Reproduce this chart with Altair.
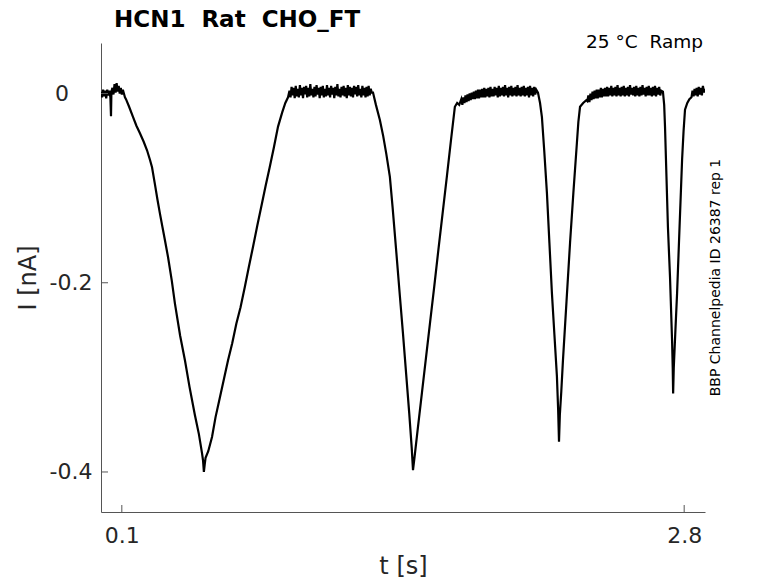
import altair as alt
import pandas as pd

# ---- trace values (t in s, I in nA), segment by segment ----
t_base1 = [0.000, 0.005, 0.010, 0.015, 0.020, 0.025, 0.030, 0.035, 0.040, 0.045, 0.048, 0.050,
           0.055, 0.060, 0.065, 0.070, 0.075, 0.080, 0.085, 0.090, 0.095, 0.100, 0.105, 0.110, 0.115]
i_base1 = [0.002, -0.004, 0.004, -0.003, 0.003, -0.005, 0.004, -0.002, 0.003, -0.004, -0.024, 0.002,
           0.006, -0.001, 0.010, 0.001, 0.011, 0.002, 0.008, 0.000, 0.006, -0.001, 0.004, 0.000, -0.004]

t_down1 = [0.120, 0.135, 0.154, 0.170, 0.187, 0.205, 0.221, 0.235, 0.245, 0.259, 0.271, 0.283,
           0.295, 0.307, 0.322, 0.340, 0.355, 0.380, 0.403, 0.425, 0.451, 0.470, 0.485, 0.490,
           0.494, 0.498]
i_down1 = [-0.006, -0.014, -0.025, -0.034, -0.042, -0.051, -0.060, -0.070, -0.078, -0.096, -0.112, -0.127,
           -0.141, -0.155, -0.173, -0.198, -0.222, -0.256, -0.282, -0.310, -0.340, -0.360, -0.380, -0.388,
           -0.400, -0.392]

t_up1 = [0.502, 0.515, 0.533, 0.550, 0.570, 0.590, 0.610, 0.630, 0.650, 0.670, 0.691, 0.710,
         0.730, 0.750, 0.773, 0.790, 0.810, 0.830, 0.850, 0.870, 0.885, 0.898]
i_up1 = [-0.385, -0.378, -0.363, -0.342, -0.322, -0.302, -0.282, -0.264, -0.243, -0.226, -0.204, -0.183,
         -0.162, -0.140, -0.116, -0.098, -0.078, -0.057, -0.035, -0.020, -0.010, -0.004]

t_base2 = [0.905, 0.910, 0.915, 0.920, 0.925, 0.930, 0.935, 0.940, 0.945, 0.950,
           0.955, 0.960, 0.965, 0.970, 0.975, 0.980, 0.985, 0.990, 0.995, 1.000,
           1.005, 1.010, 1.015, 1.020, 1.025, 1.030, 1.035, 1.040, 1.045, 1.050,
           1.055, 1.060, 1.065, 1.070, 1.075, 1.080, 1.085, 1.090, 1.095, 1.100,
           1.105, 1.110, 1.115, 1.120, 1.125, 1.130, 1.135, 1.140, 1.145, 1.150,
           1.155, 1.160, 1.165, 1.170, 1.175, 1.180, 1.185, 1.190, 1.195, 1.200,
           1.205, 1.210, 1.215, 1.220, 1.225, 1.230, 1.235, 1.240, 1.245, 1.250,
           1.255, 1.260, 1.265, 1.270, 1.275, 1.280, 1.285, 1.290, 1.295, 1.300]
i_base2 = [0.003, -0.004, 0.007, -0.002, 0.006, -0.005, 0.008, -0.003, 0.005, -0.004,
           0.009, -0.002, 0.006, -0.005, 0.007, -0.001, 0.008, -0.004, 0.006, -0.003,
           0.010, -0.002, 0.005, -0.004, 0.007, -0.003, 0.009, -0.001, 0.006, -0.005,
           0.007, -0.002, 0.008, -0.004, 0.005, -0.003, 0.009, -0.002, 0.006, -0.004,
           0.008, -0.001, 0.006, -0.005, 0.007, -0.002, 0.010, -0.003, 0.005, -0.004,
           0.007, -0.002, 0.008, -0.003, 0.006, -0.005, 0.009, -0.002, 0.007, -0.003,
           0.006, -0.004, 0.008, -0.001, 0.007, -0.003, 0.009, -0.002, 0.005, -0.004,
           0.008, -0.002, 0.006, -0.004, 0.007, -0.003, 0.008, -0.002, 0.005, 0.001]

t_down2 = [1.306, 1.320, 1.339, 1.355, 1.370, 1.387, 1.400, 1.421, 1.435, 1.450, 1.465, 1.480, 1.492, 1.498]
i_down2 = [0.001, -0.012, -0.028, -0.045, -0.064, -0.088, -0.120, -0.176, -0.214, -0.254, -0.296, -0.338,
           -0.375, -0.398]

t_up2 = [1.505, 1.520, 1.541, 1.560, 1.580, 1.600, 1.620, 1.640, 1.661, 1.680, 1.699, 1.710, 1.720, 1.730]
i_up2 = [-0.385, -0.356, -0.316, -0.280, -0.242, -0.204, -0.165, -0.127, -0.087, -0.050, -0.014, -0.010,
         -0.012, -0.006]

t_base3 = [1.735, 1.740, 1.745, 1.750, 1.755, 1.760, 1.765, 1.770, 1.775, 1.780,
           1.785, 1.790, 1.795, 1.800, 1.805, 1.810, 1.815, 1.820, 1.825, 1.830,
           1.835, 1.840, 1.845, 1.850, 1.855, 1.860, 1.865, 1.870, 1.875, 1.880,
           1.885, 1.890, 1.895, 1.900, 1.905, 1.910, 1.915, 1.920, 1.925, 1.930,
           1.935, 1.940, 1.945, 1.950, 1.955, 1.960, 1.965, 1.970, 1.975, 1.980,
           1.985, 1.990, 1.995, 2.000, 2.005, 2.010, 2.015, 2.020, 2.025, 2.030,
           2.035, 2.040, 2.045, 2.050, 2.055, 2.060, 2.065, 2.070, 2.075, 2.080,
           2.085, 2.090]
i_base3 = [-0.012, -0.004, -0.010, -0.002, -0.009, -0.001, -0.008, 0.000, -0.007, 0.001,
           -0.006, 0.002, -0.006, 0.003, -0.005, 0.004, -0.005, 0.004, -0.004, 0.005,
           -0.004, 0.006, -0.004, 0.005, -0.003, 0.006, -0.004, 0.007, -0.003, 0.005,
           -0.003, 0.007, -0.002, 0.006, -0.004, 0.008, -0.003, 0.006, -0.002, 0.007,
           -0.003, 0.009, -0.002, 0.006, -0.004, 0.007, -0.002, 0.008, -0.003, 0.006,
           -0.002, 0.007, -0.003, 0.009, -0.002, 0.006, -0.003, 0.007, -0.002, 0.008,
           -0.003, 0.006, -0.002, 0.007, -0.004, 0.008, -0.002, 0.006, -0.003, 0.007,
           -0.001, 0.004]

t_down3 = [2.098, 2.108, 2.117, 2.128, 2.141, 2.153, 2.165, 2.177, 2.189, 2.195, 2.199]
i_down3 = [0.001, -0.010, -0.025, -0.060, -0.105, -0.158, -0.211, -0.255, -0.299, -0.335, -0.368]

t_up3 = [2.203, 2.210, 2.218, 2.235, 2.252, 2.268, 2.285, 2.292, 2.300, 2.315, 2.330]
i_up3 = [-0.340, -0.315, -0.282, -0.220, -0.158, -0.105, -0.052, -0.030, -0.014, -0.010, -0.007]

t_base4 = [2.335, 2.340, 2.345, 2.350, 2.355, 2.360, 2.365, 2.370, 2.375, 2.380,
           2.385, 2.390, 2.395, 2.400, 2.405, 2.410, 2.415, 2.420, 2.425, 2.430,
           2.435, 2.440, 2.445, 2.450, 2.455, 2.460, 2.465, 2.470, 2.475, 2.480,
           2.485, 2.490, 2.495, 2.500, 2.505, 2.510, 2.515, 2.520, 2.525, 2.530,
           2.535, 2.540, 2.545, 2.550, 2.555, 2.560, 2.565, 2.570, 2.575, 2.580,
           2.585, 2.590, 2.595, 2.600, 2.605, 2.610, 2.615, 2.620, 2.625, 2.630,
           2.635, 2.640, 2.645, 2.650, 2.655, 2.660, 2.665, 2.670, 2.675, 2.680,
           2.685, 2.690]
i_base4 = [-0.008, -0.002, -0.009, 0.000, -0.007, 0.002, -0.006, 0.003, -0.005, 0.004,
           -0.005, 0.004, -0.004, 0.006, -0.004, 0.005, -0.003, 0.006, -0.003, 0.007,
           -0.003, 0.006, -0.002, 0.008, -0.003, 0.006, -0.002, 0.007, -0.003, 0.009,
           -0.002, 0.006, -0.003, 0.007, -0.002, 0.008, -0.003, 0.006, -0.002, 0.007,
           -0.003, 0.009, -0.001, 0.006, -0.002, 0.007, -0.003, 0.008, -0.002, 0.006,
           -0.003, 0.007, -0.002, 0.009, -0.001, 0.006, -0.003, 0.007, -0.002, 0.008,
           -0.002, 0.006, -0.003, 0.007, -0.002, 0.008, -0.003, 0.006, -0.001, 0.007,
           -0.002, 0.003]

t_down4 = [2.698, 2.704, 2.708, 2.715, 2.722, 2.732, 2.742, 2.745, 2.747]
i_down4 = [0.002, -0.012, -0.035, -0.088, -0.141, -0.194, -0.262, -0.290, -0.317]

t_up4 = [2.750, 2.758, 2.766, 2.778, 2.790, 2.797, 2.804, 2.815, 2.825]
i_up4 = [-0.290, -0.250, -0.211, -0.140, -0.070, -0.040, -0.017, -0.010, -0.006]

t_base5 = [2.835, 2.840, 2.845, 2.850, 2.855, 2.860, 2.865, 2.870, 2.875, 2.880,
           2.885, 2.890, 2.895, 2.900]
i_base5 = [-0.004, 0.003, -0.003, 0.005, -0.002, 0.006, -0.003, 0.007, -0.001, 0.006,
           -0.002, 0.008, 0.001, 0.005]

x_ticks = [0.1, 2.8]
y_ticks = [0.0, -0.2, -0.4]
zero_label = ["0"]

t_all, i_all = [], []
for ts, vs in [(t_base1, i_base1), (t_down1, i_down1), (t_up1, i_up1), (t_base2, i_base2),
               (t_down2, i_down2), (t_up2, i_up2), (t_base3, i_base3), (t_down3, i_down3),
               (t_up3, i_up3), (t_base4, i_base4), (t_down4, i_down4), (t_up4, i_up4),
               (t_base5, i_base5)]:
    assert len(ts) == len(vs), (ts[0], len(ts), len(vs))
    t_all += ts
    i_all += vs

trace = pd.DataFrame({"t": t_all, "I": i_all, "k": list(range(len(t_all)))})
xt = pd.DataFrame({"v": x_ticks})
yt = pd.DataFrame({"v": y_ticks})

W, H = 604, 469
FONT = "DejaVu Sans"
AX = "#555555"
LAB = "#262626"
MINUS = "\u2212"

xscale = alt.Scale(domain=[0, 2.9], nice=False, zero=False)
yscale = alt.Scale(domain=[-0.4423, 0.0534], nice=False, zero=False)

line = alt.Chart(trace).mark_line(color="black", strokeWidth=2.2, clip=True).encode(
    x=alt.X("t:Q", scale=xscale,
            axis=alt.Axis(values=x_ticks, title="t [s]", format=".1f", grid=False, tickSize=0,
                          labelPadding=13, labelFontSize=22, labelColor=LAB, labelFont=FONT,
                          domainColor=AX, titleFontSize=24, titleFont=FONT, titleColor=LAB,
                          titleFontWeight="normal", titleBaseline="alphabetic", titleY=61)),
    y=alt.Y("I:Q", scale=yscale,
            axis=alt.Axis(values=y_ticks, title="I [nA]", grid=False, tickSize=0,
                          labelExpr="datum.value == 0 ? '' : replace(format(datum.value, '.1f'), '" + MINUS + "', '-')",
                          labelPadding=9, labelFontSize=22, labelColor=LAB, labelFont=FONT,
                          domainColor=AX, titleFontSize=24, titleFont=FONT, titleColor=LAB,
                          titleFontWeight="normal", titleBaseline="alphabetic", titleX=-66,
                          titleY=H / 2)),
    order="k:Q",
)

zero_text = alt.Chart(pd.DataFrame({"v": [0.0], "s": zero_label})).mark_text(
    align="right", baseline="middle", fontSize=22, font=FONT, color=LAB
).encode(y=alt.Y("v:Q", scale=yscale), x=alt.value(-32), text="s:N")

xtick_marks = alt.Chart(xt).mark_rule(color=AX, strokeWidth=1).encode(
    x=alt.X("v:Q", scale=xscale), y=alt.value(H), y2=alt.value(H - 7))
ytick_marks = alt.Chart(yt).mark_rule(color=AX, strokeWidth=1).encode(
    y=alt.Y("v:Q", scale=yscale), x=alt.value(0), x2=alt.value(7))

title = alt.Chart(pd.DataFrame({"s": ["HCN1\u00a0 Rat\u00a0 CHO_FT"]})).mark_text(
    align="left", baseline="alphabetic", fontSize=23, font=FONT, fontWeight="bold", color="black"
).encode(text="s:N", x=alt.value(13), y=alt.value(-16))

cond = alt.Chart(pd.DataFrame({"s": ["25 °C\u00a0 Ramp"]})).mark_text(
    align="right", baseline="alphabetic", fontSize=18.5, font=FONT, color="black"
).encode(text="s:N", x=alt.value(W - 2), y=alt.value(5))

source = alt.Chart(pd.DataFrame({"s": ["BBP Channelpedia ID 26387 rep 1"]})).mark_text(
    align="center", baseline="alphabetic", angle=270, fontSize=14, font=FONT, color="black"
).encode(text="s:N", x=alt.value(W + 15), y=alt.value(H / 2))

chart = alt.layer(line, zero_text, xtick_marks, ytick_marks, title, cond, source).properties(
    width=W, height=H, background="white",
    padding={"left": 93, "top": 35, "right": 60, "bottom": 70},
    autosize=alt.AutoSizeParams(type="none"),
).configure_view(stroke="transparent", strokeWidth=0)

chart.save("out.html", embed_options={"renderer": "svg", "actions": False})
